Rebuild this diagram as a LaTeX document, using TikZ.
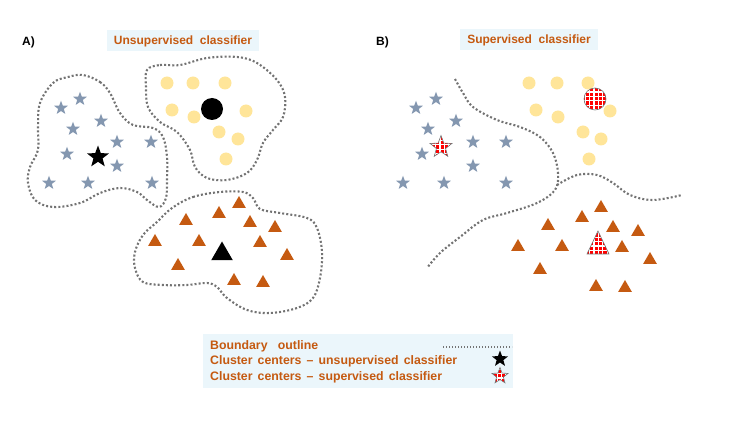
\documentclass[tikz,border=0pt]{standalone}
\usepackage{fontspec}
\setmainfont{Liberation Sans}
\usetikzlibrary{shapes.geometric,patterns}

\definecolor{bluegrey}{RGB}{132,151,176}
\definecolor{sand}{RGB}{255,229,153}
\definecolor{rust}{RGB}{197,90,17}
\definecolor{paleblue}{RGB}{235,246,251}
\definecolor{dotgrey}{RGB}{115,115,115}

% red dot fill of the supervised centres
\pgfdeclarepatternformonly{reddots}{\pgfqpoint{-1pt}{-1pt}}{\pgfqpoint{5.5pt}{5.5pt}}{\pgfqpoint{4.4pt}{4.4pt}}{%
  \pgfpathrectangle{\pgfqpoint{0.6pt}{0.6pt}}{\pgfqpoint{3.2pt}{3.2pt}}\pgfusepath{fill}}

\newcommand\widespace{\spaceskip=0.42em\relax}

\tikzset{
  bluestar/.style={star,star points=5,star point ratio=2.4,fill=bluegrey,inner sep=0pt,minimum size=14.5},
  sandball/.style={circle,fill=sand,inner sep=0pt,minimum size=13},
  rusttri/.style={regular polygon,regular polygon sides=3,fill=rust,inner sep=0pt,minimum size=16},
  centstar/.style={bluestar,fill=black,minimum size=23},
  centball/.style={sandball,fill=black,minimum size=22},
  centtri/.style={rusttri,fill=black,minimum size=25},
  chkmark/.style={draw=dotgrey,line width=0.6pt,preaction={fill=white},pattern=reddots,pattern color=red},
  chkstar/.style={bluestar,chkmark,minimum size=23},
  chkball/.style={sandball,chkmark,minimum size=22},
  boundary/.style={draw=dotgrey,line width=2.1pt,dash pattern=on 2pt off 2.1pt},
  titlebox/.style={fill=paleblue,text=rust,font=\bfseries\fontsize{12}{14}\selectfont,inner xsep=7pt,minimum height=21},
  heading/.style={font=\bfseries\fontsize{12}{14}\selectfont,anchor=west,inner sep=0pt},
  legtext/.style={text=rust,font=\bfseries\fontsize{12.3}{14}\selectfont,execute at begin node=\widespace,anchor=west,inner sep=0pt}
}

\begin{document}
\begin{tikzpicture}[x=1pt,y=-1pt]
	\useasboundingbox (0,0) rectangle (750,422) ;
	% panel A : unsupervised
	\node[heading] (la) at (22,42) {A)} ;
	\node[titlebox] (ta) at (183,41) {Unsupervised\ \ classifier} ;
	\draw[boundary] plot[smooth cycle,tension=0.6] coordinates {(83,75) (100,82) (110,93) (120,113) (133,125) (153,128) (163,137) (167,157) (167,180) (166,198) (159,207) (147,200) (137,192) (120,188) (100,193) (80,203) (53,207) (35,200) (28,183) (30,167) (38,150) (38,127) (40,103) (53,83) (68,77)} ;
	\draw[boundary] plot[smooth cycle,tension=0.6] coordinates {(147,70) (160,65) (180,65) (207,58) (237,57) (257,63) (277,80) (285,97) (283,117) (273,130) (263,143) (257,160) (247,173) (227,180) (207,178) (195,167) (190,150) (177,132) (160,122) (148,107) (146,87)} ;
	\draw[boundary] plot[smooth cycle,tension=0.6] coordinates {(172,208) (193,197) (220,192) (243,192) (253,198) (260,209) (280,213) (307,218) (317,228) (322,252) (320,278) (313,298) (297,308) (270,313) (247,310) (227,298) (217,287) (207,283) (187,285) (163,285) (143,282) (135,268) (135,252) (143,235) (157,222)} ;
	\foreach \p [count=\i] in {(61,108),(80,99),(101,121),(73,129),(117,142),(151,142),(67,154),(117,166),(49,183),(88,183),(152,183)}
		\node[bluestar] (sa\i) at \p {} ;
	\foreach \p [count=\i] in {(167,83),(193,83),(225,83),(172,110),(194,117),(246,111),(219,132),(238,139),(226,159)}
		\node[sandball] (ba\i) at \p {} ;
	\foreach \p [count=\i] in {(239,204),(219,214),(186,221),(250,223),(275,228),(155,242),(199,242),(260,243),(287,256),(178,266),(234,281),(263,283)}
		\node[rusttri] (ra\i) at \p {} ;
	\node[centstar] (csa) at (98,157) {} ;
	\node[centball] (cba) at (212,109) {} ;
	\node[centtri] (cra) at (222,254) {} ;
	% panel B : supervised
	\node[heading] (lb) at (376,42) {B)} ;
	\node[titlebox] (tb) at (529,40) {Supervised\ \ classifier} ;
	\draw[boundary] plot[smooth,tension=0.6] coordinates {(455,79) (463,93) (473,107) (497,120) (520,127) (540,137) (553,153) (558,173) (555,190) (537,203) (507,213) (483,220) (460,237) (440,253) (427,268)} ;
	\draw[boundary] plot[smooth,tension=0.6] coordinates {(557,185) (577,175) (597,175) (613,183) (630,195) (653,200) (682,195)} ;
	\foreach \p [count=\i] in {(416,108),(436,99),(456,121),(428,129),(473,142),(506,142),(422,154),(473,166),(403,183),(444,183),(506,183)}
		\node[bluestar] (sb\i) at \p {} ;
	\foreach \p [count=\i] in {(529,83),(557,83),(588,83),(536,110),(558,117),(610,111),(583,132),(601,139),(589,159)}
		\node[sandball] (bb\i) at \p {} ;
	\foreach \p [count=\i] in {(601,208),(582,218),(548,226),(613,228),(638,232),(518,247),(562,247),(622,248),(650,260),(540,270),(596,287),(625,288)}
		\node[rusttri] (rb\i) at \p {} ;
	\node[chkstar] (csb) at (441,147) {} ;
	\node[chkball] (cbb) at (595,99) {} ;
	\path[chkmark] (598,231) -- (609,254) -- (587,254) -- cycle ;
	% legend
	\node[fill=paleblue,minimum width=310,minimum height=54,inner sep=0pt] (leg) at (358,361) {} ;
	\node[legtext] (l1) at (210,346) {Boundary\ \ outline} ;
	\node[legtext] (l2) at (210,361) {Cluster centers -- unsupervised classifier} ;
	\node[legtext] (l3) at (210,377) {Cluster centers -- supervised classifier} ;
	\coordinate (d1) at (443,347) ;
	\coordinate (d2) at (512,347) ;
	\draw[draw=dotgrey,line width=1.3pt,dash pattern=on 1.3pt off 1.7pt] (d1) -- (d2) ;
	\node[centstar,minimum size=17] (ls1) at (500,359) {} ;
	\node[chkstar,minimum size=17] (ls2) at (500,376) {} ;
\end{tikzpicture}
\end{document}
